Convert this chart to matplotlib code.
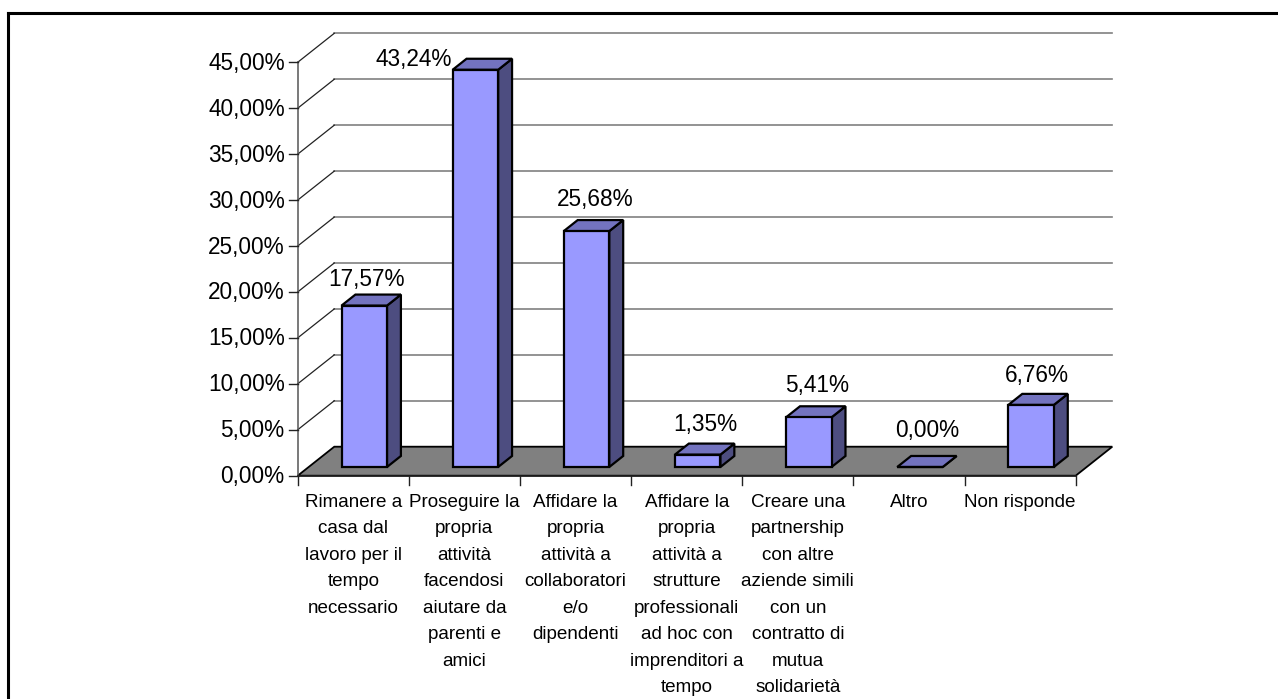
import matplotlib
matplotlib.use("Agg")
import matplotlib.pyplot as plt
from matplotlib.patches import Polygon
from matplotlib.lines import Line2D

plt.rcParams['font.family'] = ['Liberation Sans', 'DejaVu Sans']

categories = [
    "Rimanere a\ncasa dal\nlavoro per il\ntempo\nnecessario",
    "Proseguire la\npropria\nattività\nfacendosi\naiutare da\nparenti e\namici",
    "Affidare la\npropria\nattività a\ncollaboratori\ne/o\ndipendenti",
    "Affidare la\npropria\nattività a\nstrutture\nprofessionali\nad hoc con\nimprenditori a\ntempo",
    "Creare una\npartnership\ncon altre\naziende simili\ncon un\ncontratto di\nmutua\nsolidarietà",
    "Altro",
    "Non risponde",
]
values = [17.57, 43.24, 25.68, 1.35, 5.41, 0.00, 6.76]
value_labels = ["17,57%", "43,24%", "25,68%", "1,35%", "5,41%", "0,00%", "6,76%"]
y_ticks = [0, 5, 10, 15, 20, 25, 30, 35, 40, 45]
y_tick_labels = ["0,00%", "5,00%", "10,00%", "15,00%", "20,00%", "25,00%",
                 "30,00%", "35,00%", "40,00%", "45,00%"]

# style: data-label offsets in pixels from category centre / value point
label_offsets = [(13, 26), (-51, 10), (19.5, 32), (18.4, 30), (19, 32), (18, 36), (17, 29)]

W, H = 1278, 699
fig = plt.figure(figsize=(W / 100, H / 100), dpi=100, facecolor='white')

# plot front plane in pixels
L, R, T, B = 297.7, 1075.7, 62.3, 475.7
ax = fig.add_axes([L / W, 1 - B / H, (R - L) / W, (B - T) / H])
ax.set_xlim(0, len(categories))
ax.set_ylim(0, 45)
ax.axis('off')

px_x = (R - L) / len(categories)
px_y = (B - T) / 45
DX, DY = 36.6 / px_x, 29 / px_y          # full chart depth in data units
bar_w = 45.5 / px_x
depth_a, depth_b = 0.30, 0.68            # bar front/back as depth fraction

def off(x, y, d):
    return (x + DX * d, y + DY * d)

def poly(pts, fc, ec='black', lw=1.6, z=3):
    ax.add_patch(Polygon(pts, closed=True, facecolor=fc, edgecolor=ec, lw=lw,
                         zorder=z, clip_on=False, joinstyle='miter'))

n = len(categories)
# floor
poly([off(0, 0, 0), off(n, 0, 0), off(n, 0, 1), off(0, 0, 1)], '#808080', lw=1.3, z=1)

# gridlines: back wall and left wall
for t in y_ticks[1:]:
    ax.plot([off(0, t, 1)[0], off(n, t, 1)[0]], [off(0, t, 1)[1]] * 2,
            color='#808080', lw=1.2, zorder=1, clip_on=False)
    ax.plot([0, DX], [t, t + DY], color='#222222', lw=0.9, zorder=1, clip_on=False)

# axes lines and ticks
ax.plot([0, 0], [0, 45], color='#555555', lw=1.1, zorder=2, clip_on=False)
ax.plot([0, n], [0, 0], color='#222222', lw=1.1, zorder=2, clip_on=False)
tick_px = 9
for t, lab in zip(y_ticks, y_tick_labels):
    ax.plot([-tick_px / px_x, 0], [t, t], color='#222222', lw=1.0, zorder=2, clip_on=False)
    ax.annotate(lab, xy=(0, t), xytext=(-13, -1), xycoords='data', textcoords='offset pixels',
                ha='right', va='center', fontsize=16.3, color='black', annotation_clip=False)
for i in range(n + 1):
    ax.plot([i, i], [0, -tick_px / px_y], color='#222222', lw=1.0, zorder=2, clip_on=False)

# bars
for i, v in enumerate(values):
    x0 = i + 0.5 - bar_w / 2
    x1 = x0 + bar_w
    a, b = depth_a, depth_b
    poly([off(x1, 0, a), off(x1, 0, b), off(x1, v, b), off(x1, v, a)], '#4D4D80')
    poly([off(x0, v, a), off(x1, v, a), off(x1, v, b), off(x0, v, b)], '#7373BF')
    poly([off(x0, 0, a), off(x1, 0, a), off(x1, v, a), off(x0, v, a)], '#9999FF')
    (ox, oy) = label_offsets[i]
    ax.annotate(value_labels[i], xy=(i + 0.5, off(0, v, a)[1]), xytext=(ox, oy),
                xycoords='data', textcoords='offset pixels', ha='center', va='center',
                fontsize=16.3, color='black', zorder=5, annotation_clip=False)

# category labels
for i, c in enumerate(categories):
    ax.text(i + 0.5, -(494 - B) / px_y, c, ha='center', va='top', fontsize=13.6,
            linespacing=1.73, color='black', clip_on=False)

# outer frame (open on the right and at the bottom)
fig.add_artist(Line2D([8 / W, 8 / W], [0, 1 - 13 / H], color='black', lw=2.2,
                      transform=fig.transFigure))
fig.add_artist(Line2D([8 / W, 1], [1 - 13 / H] * 2, color='black', lw=2.2,
                      transform=fig.transFigure))

fig.savefig('out.png', dpi=100, facecolor='white')
